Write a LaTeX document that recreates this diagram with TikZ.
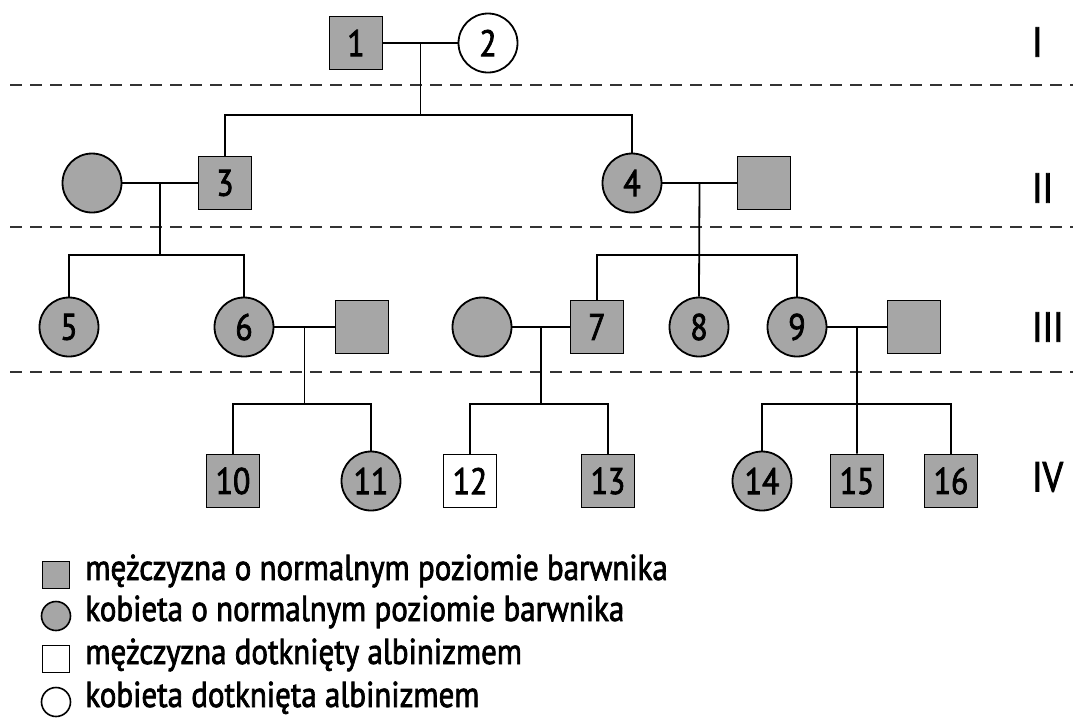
\documentclass[tikz,border=0pt]{standalone}
\usepackage{fontspec}
\setmainfont[FakeStretch=0.86, FakeBold=2]{PT Sans}
\usetikzlibrary{calc}

\begin{document}
\begin{tikzpicture}[x=0.5pt,y=-0.5pt]
    % --- Styles ---
    \tikzstyle{male}=[draw, line width=0.9pt, rectangle, minimum size=26.5pt, inner sep=0pt, fill=black!35, font=\fontsize{18.5}{18.5}\selectfont]
    \tikzstyle{female}=[draw, line width=0.9pt, circle, minimum size=29.5pt, inner sep=0pt, fill=black!35, font=\fontsize{18.5}{18.5}\selectfont]
    \tikzstyle{albino}=[fill=white]
    \tikzstyle{tie}=[line width=0.9pt]
    \tikzstyle{gen_line}=[line width=1.2pt, dash pattern=on 6pt off 4pt, color=black!80]
    \tikzstyle{gen_label}=[anchor=west, font=\fontsize{21}{21}\selectfont]
    \tikzstyle{key_male}=[draw, line width=0.8pt, rectangle, minimum size=13.5pt, inner sep=0pt, fill=black!35]
    \tikzstyle{key_female}=[draw, line width=0.8pt, circle, minimum size=14.5pt, inner sep=0pt, fill=black!35]
    \tikzstyle{key_text}=[anchor=mid west, inner sep=0pt, font=\fontsize{18}{18}\selectfont]

    \useasboundingbox (0,0) rectangle (1073,720);

    % --- 1. Generation lines ---
    \draw[gen_line] (10,85) -- (1073,85);
    \draw[gen_line] (10,227) -- (1073,227);
    \draw[gen_line] (10,372) -- (1073,372);

    \node[gen_label] (g1) at (1025,42) {I};
    \node[gen_label] (g2) at (1025,188) {II};
    \node[gen_label] (g3) at (1025,327) {III};
    \node[gen_label] (g4) at (1025,477) {IV};

    % --- 2. Individuals ---

    % Generation I
    \node[male] (p1) at (356,43) {1};
    \node[female, albino] (p2) at (488,43) {2};

    % Generation II
    \node[female] (w3) at (92,183) {};
    \node[male] (p3) at (225,183) {3};
    \node[female] (p4) at (632,183) {4};
    \node[male] (h4) at (764,183) {};

    % Generation III
    \node[female] (p5) at (69,327) {5};
    \node[female] (p6) at (244,327) {6};
    \node[male] (h6) at (362,327) {};
    \node[female] (w7) at (482,327) {};
    \node[male] (p7) at (597,327) {7};
    \node[female] (p8) at (699,327) {8};
    \node[female] (p9) at (797,327) {9};
    \node[male] (h9) at (914,327) {};

    % Generation IV
    \node[male] (p10) at (233,481) {10};
    \node[female] (p11) at (371,481) {11};
    \node[male, albino] (p12) at (470,481) {12};
    \node[male] (p13) at (608,481) {13};
    \node[female] (p14) at (762,481) {14};
    \node[male] (p15) at (857,481) {15};
    \node[male] (p16) at (951,481) {16};

    % --- 3. Matings and sibships ---
    \coordinate (m1) at ($(p1.east)!0.5!(p2.west)$);
    \coordinate (s1) at ($(m1)+(0,72)$);
    \draw[tie] (p1) -- (p2);
    \draw[tie] (m1) -- (s1);
    \draw[tie] (p3.north) |- (s1) -| (p4.north);

    \coordinate (m3) at ($(w3.east)!0.5!(p3.west)$);
    \coordinate (s3) at ($(m3)+(0,72)$);
    \draw[tie] (w3) -- (p3);
    \draw[tie] (m3) -- (s3);
    \draw[tie] (p5.north) |- (s3) -| (p6.north);

    \coordinate (m4) at ($(p4.east)!0.5!(h4.west)$);
    \coordinate (s4) at ($(m4)+(0,72)$);
    \draw[tie] (p4) -- (h4);
    \draw[tie] (m4) -- (p8.north);
    \draw[tie] (p7.north) |- (s4) -| (p9.north);

    \coordinate (m6) at ($(p6.east)!0.5!(h6.west)$);
    \coordinate (s6) at ($(m6)+(0,77)$);
    \draw[tie] (p6) -- (h6);
    \draw[tie] (m6) -- (s6);
    \draw[tie] (p10.north) |- (s6) -| (p11.north);

    \coordinate (m7) at ($(w7.east)!0.5!(p7.west)$);
    \coordinate (s7) at ($(m7)+(0,77)$);
    \draw[tie] (w7) -- (p7);
    \draw[tie] (m7) -- (s7);
    \draw[tie] (p12.north) |- (s7) -| (p13.north);

    \coordinate (m9) at ($(p9.east)!0.5!(h9.west)$);
    \coordinate (s9) at ($(m9)+(0,77)$);
    \draw[tie] (p9) -- (h9);
    \draw[tie] (m9) -- (p15.north);
    \draw[tie] (p14.north) |- (s9) -| (p16.north);

    % --- 4. Key ---
    \node[key_male] (k1) at (56,575) {};
    \node[key_text] (t1) at (85,575) {mężczyzna o normalnym poziomie barwnika};
    \node[key_female] (k2) at (56,616) {};
    \node[key_text] (t2) at (85,616) {kobieta o normalnym poziomie barwnika};
    \node[key_male, albino] (k3) at (56,659) {};
    \node[key_text] (t3) at (85,659) {mężczyzna dotknięty albinizmem};
    \node[key_female, albino] (k4) at (56,702) {};
    \node[key_text] (t4) at (85,702) {kobieta dotknięta albinizmem};
\end{tikzpicture}
\end{document}
